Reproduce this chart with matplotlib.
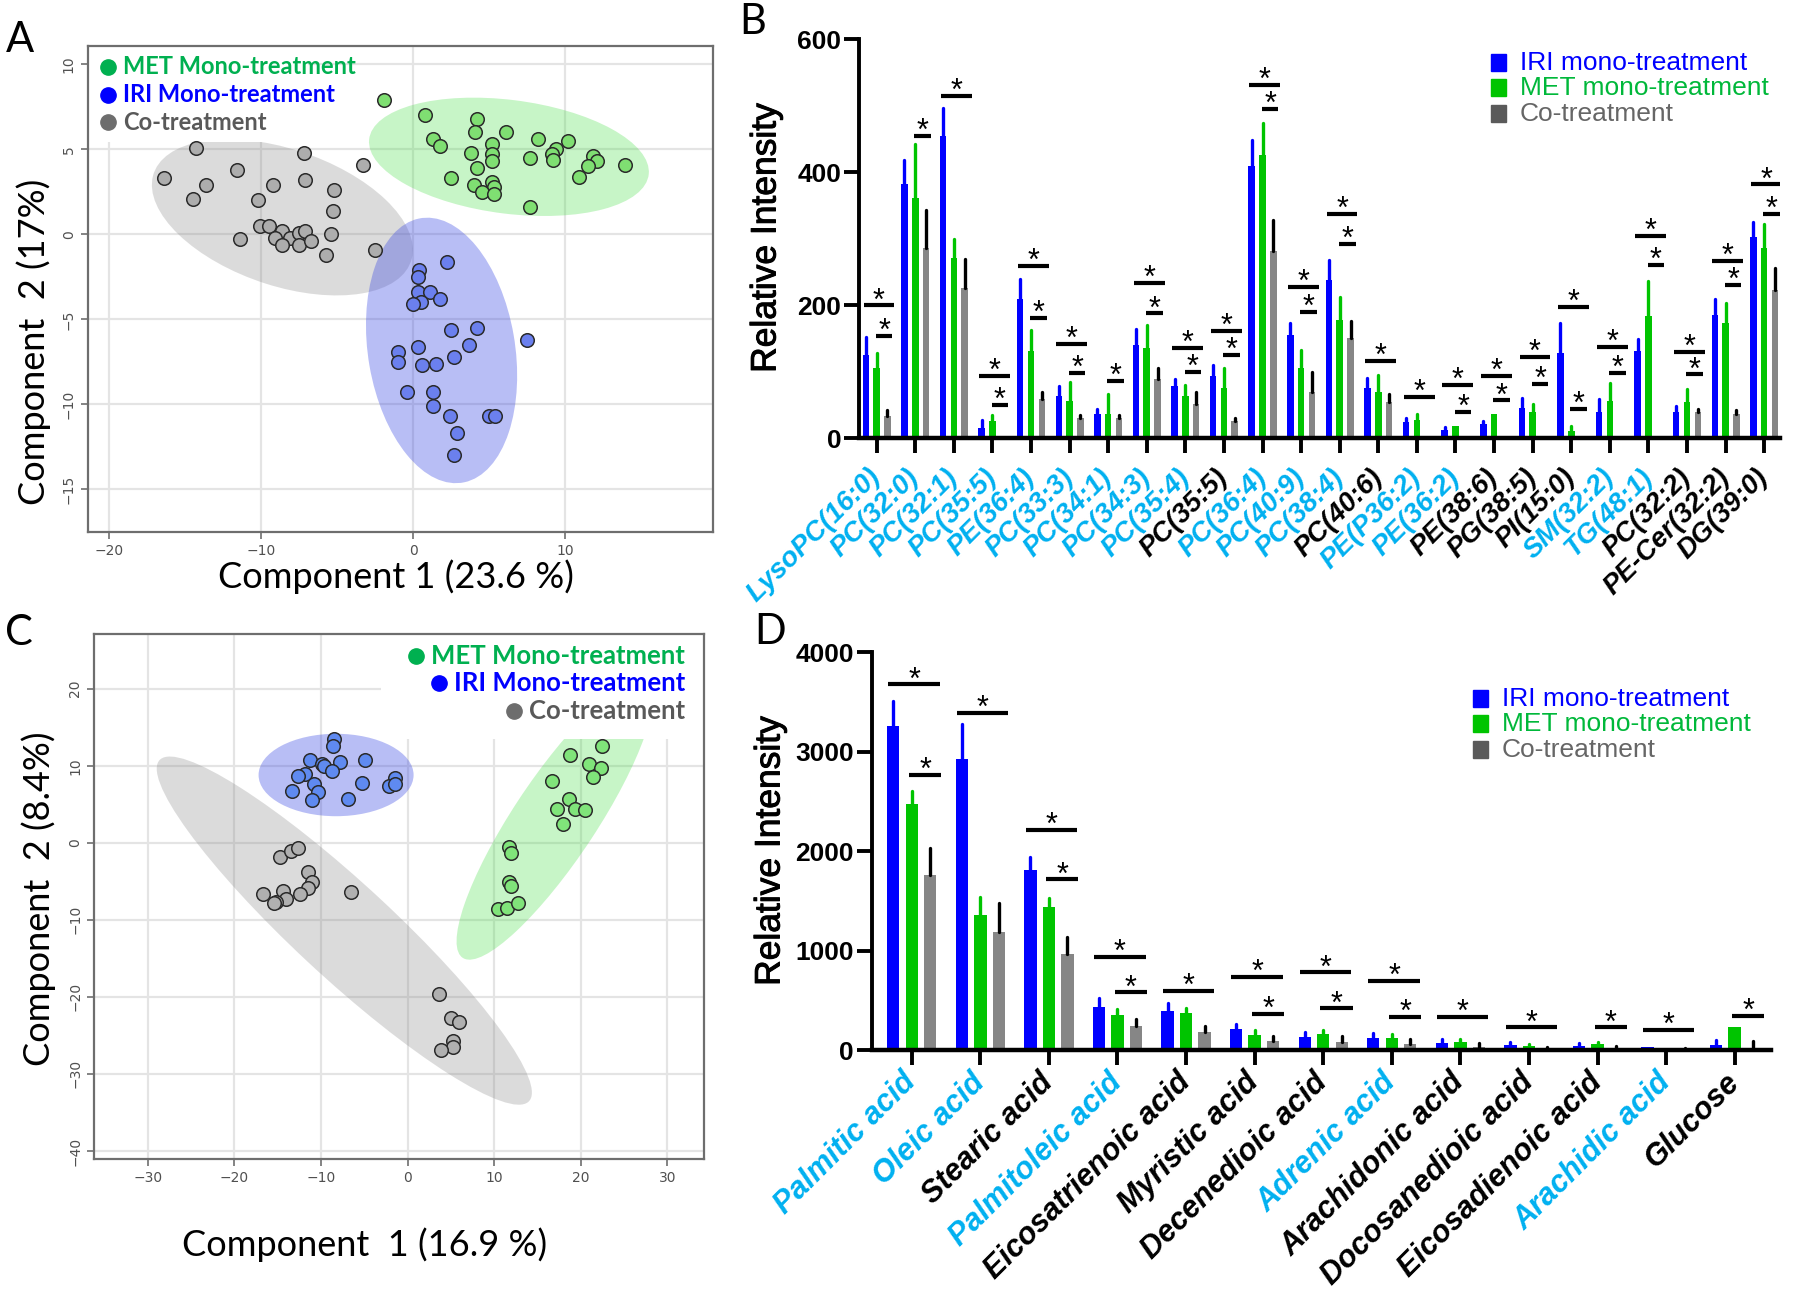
import numpy as np
import matplotlib
matplotlib.use('Agg')
import matplotlib.pyplot as plt
import matplotlib.patheffects as pe
from matplotlib.patches import Ellipse, Rectangle

# ---------------- data ----------------
# panel A : PCA scores (lipids)
a_met_x = [-1.9, 0.8, 4.2, 4.1, 6.1, 1.3, 1.8, 8.2, 10.2, 5.2, 3.8, 5.2, 5.2, 4.2, 7.7, 9.4, 9.1, 9.2, 11.8, 12.1, 11.5, 13.9, 10.9, 2.5, 5.2, 5.3, 4.0, 4.5, 5.3, 7.7]
a_met_y = [7.9, 7.0, 6.8, 6.0, 6.0, 5.6, 5.2, 5.6, 5.5, 5.3, 4.8, 4.7, 4.3, 3.9, 4.5, 5.0, 4.7, 4.4, 4.6, 4.3, 4.0, 4.1, 3.4, 3.3, 3.1, 2.8, 2.9, 2.5, 2.4, 1.6]
a_iri_x = [2.2, 0.4, 0.3, 0.3, 1.1, 1.8, 0.5, 0.0, 2.5, 4.2, 7.5, 3.7, 0.3, -1.0, 2.7, -1.0, 0.6, 1.5, -0.4, 1.3, 1.3, 2.4, 5.0, 5.4, 2.9, 2.7]
a_iri_y = [-1.6, -2.1, -2.5, -3.4, -3.4, -3.8, -4.0, -4.1, -5.6, -5.5, -6.2, -6.5, -6.6, -6.9, -7.2, -7.5, -7.7, -7.6, -9.3, -9.3, -10.1, -10.7, -10.7, -10.7, -11.7, -13.0]
a_co_x = [-16.4, -14.3, -14.5, -13.6, -11.6, -10.2, -9.2, -7.2, -7.1, -5.2, -5.3, -3.3, -10.1, -9.5, -8.6, -9.1, -8.1, -7.5, -7.1, -8.6, -7.5, -6.7, -11.4, -5.4, -5.7, -2.5]
a_co_y = [3.3, 5.1, 2.1, 2.9, 3.8, 2.0, 2.9, 4.8, 3.2, 2.6, 1.4, 4.1, 0.5, 0.5, 0.2, -0.2, -0.2, 0.1, 0.2, -0.6, -0.6, -0.4, -0.3, 0.0, -1.2, -0.9]
# confidence ellipses: center x, center y, width, height, angle
a_ell_co = (-8.6, 1.0, 17.7, 8.1, -16)
a_ell_met = (6.3, 4.56, 18.5, 6.7, -6.3)
a_ell_iri = (1.87, -6.83, 9.65, 15.8, 11)

# panel C : PCA scores (fatty acids)
c_iri_x = [-8.5, -8.6, -11.3, -9.9, -9.7, -7.8, -4.9, -11.8, -12.6, -8.7, -10.8, -13.3, -10.3, -11.0, -6.9, -5.3, -1.5, -2.1, -1.4]
c_iri_y = [13.5, 12.6, 10.7, 10.2, 10.0, 10.5, 10.8, 8.9, 8.7, 9.3, 7.6, 6.7, 6.6, 5.5, 5.7, 7.8, 8.4, 7.4, 7.6]
c_met_x = [22.4, 18.8, 21.0, 22.3, 21.4, 16.7, 18.6, 17.3, 19.3, 20.5, 18.0, 11.7, 11.9, 11.7, 11.9, 10.4, 11.5, 12.8]
c_met_y = [12.5, 11.4, 10.2, 9.7, 8.6, 8.0, 5.7, 4.4, 4.4, 4.2, 2.4, -0.5, -1.3, -5.1, -5.6, -8.6, -8.5, -7.8]
c_co_x = [-14.7, -13.4, -12.6, -11.5, -11.0, -11.5, -12.4, -14.4, -14.0, -15.2, -15.4, -16.7, -6.5, 3.6, 5.0, 6.0, 5.2, 5.2, 3.9]
c_co_y = [-1.9, -1.1, -0.7, -3.8, -5.1, -5.9, -6.7, -6.3, -7.3, -7.7, -7.8, -6.6, -6.4, -19.6, -22.7, -23.2, -25.7, -26.5, -26.9]
c_ell_co = (-7.3, -11.4, 61.5, 11.7, -46.3)
c_ell_met = (17.0, 3.0, 41.7, 9.8, 59.7)
c_ell_iri = (-8.25, 8.8, 17.9, 10.7, 0)

# panel B : lipids
b_labels = ['LysoPC(16:0)', 'PC(32:0)', 'PC(32:1)', 'PC(35:5)', 'PE(36:4)', 'PC(33:3)', 'PC(34:1)', 'PC(34:3)',
            'PC(35:4)', 'PC(35:5)', 'PC(36:4)', 'PC(40:9)', 'PC(38:4)', 'PC(40:6)', 'PE(P36:2)', 'PE(36:2)',
            'PE(38:6)', 'PG(38:5)', 'PI(15:0)', 'SM(32:2)', 'TG(48:1)', 'PC(32:2)', 'PE-Cer(32:2)', 'DG(39:0)']
b_cyan = [1, 1, 1, 1, 1, 1, 1, 1, 1, 0, 1, 1, 1, 0, 1, 1, 0, 0, 0, 1, 1, 0, 0, 0]
b_iri = [126, 382, 454, 16, 210, 63, 36, 141, 79, 94, 410, 156, 238, 76, 24, 13, 21, 45, 129, 40, 131, 39, 186, 302]
b_iri_top = [153, 419, 497, 28, 240, 78, 44, 164, 89, 110, 449, 174, 268, 91, 31, 17, 26, 61, 173, 59, 150, 48, 209, 326]
b_met = [105, 362, 271, 26, 131, 56, 36, 136, 64, 75, 426, 106, 178, 70, 28, 19, 36, 40, 11, 56, 184, 54, 174, 286]
b_met_top = [128, 442, 300, 35, 163, 84, 66, 171, 80, 106, 474, 133, 212, 95, 37, 19, 36, 52, 19, 83, 237, 74, 203, 323]
b_co = [34, 286, 226, 0, 59, 30, 31, 89, 51, 26, 282, 70, 151, 54, 0, 0, 0, 0, 0, 0, 0, 39, 37, 223]
b_co_top = [43, 343, 269, 0, 70, 35, 35, 106, 69, 31, 329, 99, 177, 67, 0, 0, 0, 0, 0, 0, 0, 44, 42, 256]
b_sig_long = [200, None, 515, 94, 259, 142, None, 234, 136, 162, 531, 228, 338, 116, 62, 80, 94, 122, 198, 138, 304, 130, 267, 382]
b_sig_short = [154, 455, None, 50, 181, 98, 86, 188, 100, 126, 495, 190, 292, None, None, 40, 57, 82, 44, 98, 261, 96, 231, 337]

# panel D : fatty acids
d_labels = ['Palmitic acid', 'Oleic acid', 'Stearic acid', 'Palmitoleic acid', 'Eicosatrienoic acid', 'Myristic acid',
            'Decenedioic acid', 'Adrenic acid', 'Arachidonic acid', 'Docosanedioic acid', 'Eicosadienoic acid',
            'Arachidic acid', 'Glucose']
d_cyan = [1, 1, 0, 1, 0, 0, 0, 1, 0, 0, 0, 1, 0]
d_iri = [3259, 2924, 1811, 436, 392, 208, 134, 124, 67, 50, 44, 27, 50]
d_iri_top = [3510, 3276, 1945, 520, 476, 262, 178, 168, 107, 80, 67, 34, 101]
d_met = [2474, 1358, 1435, 352, 375, 151, 158, 124, 84, 44, 57, 0, 228]
d_met_top = [2609, 1542, 1526, 412, 419, 201, 201, 158, 107, 60, 84, 0, 228]
d_co = [1760, 1184, 966, 245, 178, 94, 84, 57, 34, 23, 15, 8, 10]
d_co_top = [2035, 1482, 1133, 312, 241, 144, 144, 111, 74, 34, 40, 20, 94]
d_sig_long = [3678, 3393, 2213, 939, 593, 738, 781, 697, 335, 228, None, 201, None]
d_sig_short = [2766, None, 1717, 580, None, 362, 419, 335, None, None, 228, None, 345]

# ---------------- style ----------------
W, H = 1800, 1298
SANS = ['Lato', 'DejaVu Sans']
ARIAL = ['Liberation Sans', 'DejaVu Sans']
BLUE, GREEN, GREY = '#0000ff', '#00c400', '#868686'
CYAN = '#00b0f0'

fig = plt.figure(figsize=(W / 100, H / 100), dpi=100)
renderer = fig.canvas.get_renderer()


def fx(x):
    return x / W


def fy(y):
    return 1 - y / H


def box(l, t, r, b):
    return [fx(l), fy(b), (r - l) / W, (b - t) / H]


def pca_panel(ax, groups, ells, xlim, ylim, xticks, yticks, cover):
    for (cx, cy, w, h, ang), col in ells:
        ax.add_patch(Ellipse((cx, cy), w, h, angle=ang, facecolor=col, edgecolor='none', zorder=1))
    ax.add_patch(Rectangle(cover[0], cover[1], cover[2], facecolor='white', edgecolor='none', zorder=2))
    for xs, ys, col in groups:
        ax.scatter(xs, ys, s=95, c=col, edgecolors='#2a2a2a', linewidths=1.1, zorder=4)
    ax.set_xlim(xlim)
    ax.set_ylim(ylim)
    ax.set_xticks(xticks)
    ax.set_yticks(yticks)
    ax.grid(True, color='#e4e4e4', lw=1.6)
    ax.set_axisbelow(True)
    for s in ax.spines.values():
        s.set_color('#6e6e6e')
        s.set_linewidth(1.6)
    ax.tick_params(colors='#6e6e6e', labelcolor='#505050', labelsize=10, length=5, width=1.2)
    for t in ax.get_yticklabels():
        t.set_rotation(90)
        t.set_va('center')


def pca_legend(ax, x, ys, size, align):
    names = ['MET Mono-treatment', 'IRI Mono-treatment', 'Co-treatment']
    cols = ['#00b050', '#0000ff', '#595959']
    marks = ['#00b050', '#0000ff', '#6d6d6d']
    for y, nm, c, m in zip(ys, names, cols, marks):
        t = fig.text(fx(x), fy(y), nm, fontsize=size, fontweight='bold', color=c, family=SANS,
                     va='center', ha=align)
        x0 = t.get_window_extent(renderer).x0
        ax.plot([(x0 - 15) / W], [fy(y)], 'o', ms=11, color=m, transform=fig.transFigure,
                clip_on=False, zorder=6)


# ---------------- panel A ----------------
axA = fig.add_axes(box(87.7, 46, 712.7, 532.3))
pca_panel(axA,
          [(a_co_x, a_co_y, '#adadad'), (a_met_x, a_met_y, '#7fdf72'), (a_iri_x, a_iri_y, '#6b80ee')],
          [(a_ell_co, (0.54, 0.54, 0.54, 0.3)), (a_ell_met, (0.28, 0.87, 0.28, 0.3)),
           (a_ell_iri, (0.21, 0.27, 0.89, 0.35))],
          (-21.4, 19.7), (-17.53, 11.08), [-20, -10, 0, 10], [10, 5, 0, -5, -10, -15],
          ((-21.4, 5.45), 14.5, 6))
fig.text(fx(396), fy(577), 'Component 1 (23.6 %)', fontsize=26, family=SANS, ha='center', va='center')
fig.text(fx(34), fy(342), 'Component  2 (17%)', fontsize=26, family=SANS, ha='center', va='center', rotation=90)
pca_legend(axA, 123, [67, 94.5, 122], 17, 'left')

# ---------------- panel C ----------------
axC = fig.add_axes(box(94.3, 634, 704.3, 1159.3))
pca_panel(axC,
          [(c_co_x, c_co_y, '#b0b0b0'), (c_met_x, c_met_y, '#80e47a'), (c_iri_x, c_iri_y, '#5f8af0')],
          [(c_ell_co, (0.54, 0.54, 0.54, 0.3)), (c_ell_met, (0.28, 0.87, 0.28, 0.3)),
           (c_ell_iri, (0.21, 0.27, 0.89, 0.35))],
          (-36.17, 34.27), (-41.08, 27.1), [-30, -20, -10, 0, 10, 20, 30], [20, 10, 0, -10, -20, -30, -40],
          ((-3.1, 13.5), 40, 15))
fig.text(fx(365), fy(1245), 'Component  1 (16.9 %)', fontsize=26, family=SANS, ha='center', va='center')
fig.text(fx(39), fy(899), 'Component  2 (8.4%)', fontsize=26, family=SANS, ha='center', va='center', rotation=90)
pca_legend(axC, 685, [656, 683, 711], 18.5, 'right')


# ---------------- bar panels ----------------
def bar_panel(ax, labels, cyan, series, sig_long, sig_short, ymax, ystep, xlim, off, bw,
              long_span, short_span, lab_size, lab_pad):
    x = np.arange(len(labels))
    for k, (vals, tops, col, ecol) in enumerate(series):
        vals = np.array(vals, float)
        tops = np.array(tops, float)
        xs = x + (k - 1) * off
        ax.bar(xs, vals, width=bw, color=col, zorder=2)
        m = tops > vals
        ax.vlines(xs[m], vals[m], tops[m], colors=ecol, linewidth=2.4, capstyle='round', zorder=2)
    for sig, (lo, hi) in ((sig_long, long_span), (sig_short, short_span)):
        for i, v in enumerate(sig):
            if v is None:
                continue
            ax.hlines(v, i + lo, i + hi, colors='black', linewidth=3.0, zorder=3)
            ax.annotate('*', (i + (lo + hi) / 2, v), xytext=(0, -3), textcoords='offset points',
                        ha='center', va='baseline', fontsize=22, family=ARIAL, clip_on=False)
    ax.set_xlim(xlim)
    ax.set_ylim(0, ymax)
    ax.set_yticks(np.arange(0, ymax + 1, ystep))
    ax.set_xticks(x)
    ax.set_xticklabels(labels, rotation=45, ha='right', va='center', rotation_mode='anchor',
                       fontsize=lab_size, fontweight='bold', fontstyle='italic', family=ARIAL)
    for t, c in zip(ax.get_xticklabels(), cyan):
        t.set_color(CYAN if c else 'black')
    for t in ax.get_yticklabels():
        t.set_fontweight('bold')
        t.set_family(ARIAL)
    for s in ('top', 'right'):
        ax.spines[s].set_visible(False)
    ax.spines['left'].set_linewidth(2.8)
    ax.spines['bottom'].set_linewidth(3.2)
    ax.tick_params(axis='y', length=11, width=2.8, labelsize=19, pad=2)
    ax.tick_params(axis='x', length=11, width=2.8, pad=lab_pad)


def bar_legend(x0, ys):
    names = ['IRI mono-treatment', 'MET mono-treatment', 'Co-treatment']
    cols = [BLUE, GREEN, '#5a5a5a']
    tcols = ['#0000ff', '#00b83a', '#666666']
    for y, nm, c, tc in zip(ys, names, cols, tcols):
        fig.add_artist(Rectangle((fx(x0), fy(y + 8)), 15 / W, 17 / H, color=c, transform=fig.transFigure))
        fig.text(fx(x0 + 29), fy(y), nm, fontsize=19, color=tc, family=ARIAL, va='center')


thick = [pe.withStroke(linewidth=0.7, foreground='black')]

axB = fig.add_axes(box(859.3, 39.3, 1780, 438.3))
bar_panel(axB, b_labels, b_cyan,
          [(b_iri, b_iri_top, BLUE, BLUE), (b_met, b_met_top, GREEN, GREEN), (b_co, b_co_top, GREY, 'black')],
          b_sig_long, b_sig_short, 600, 200, (-0.45, 23.41), 0.28, 0.17,
          (-0.34, 0.46), (-0.02, 0.41), 20, 14)
fig.text(fx(766), fy(238), 'Relative Intensity', fontsize=25.5, family=ARIAL, ha='center', va='center',
         rotation=90, path_effects=thick)
bar_legend(1491, [63, 88, 114])

axD = fig.add_axes(box(872, 652.3, 1771, 1050))
bar_panel(axD, d_labels, d_cyan,
          [(d_iri, d_iri_top, BLUE, BLUE), (d_met, d_met_top, GREEN, GREEN), (d_co, d_co_top, GREY, 'black')],
          d_sig_long, d_sig_short, 4000, 1000, (-0.58, 12.53), 0.27, 0.18,
          (-0.34, 0.41), (-0.04, 0.43), 22, 9)
fig.text(fx(770), fy(851), 'Relative Intensity', fontsize=25.5, family=ARIAL, ha='center', va='center',
         rotation=90, path_effects=thick)
bar_legend(1473, [699, 724, 750])

# panel letters
for lab, (px, py) in zip('ABCD', [(20, 40), (753, 22), (19, 633), (770, 632)]):
    fig.text(fx(px), fy(py), lab, fontsize=30, family=SANS, ha='center', va='center')

fig.savefig('out.png', dpi=100)
